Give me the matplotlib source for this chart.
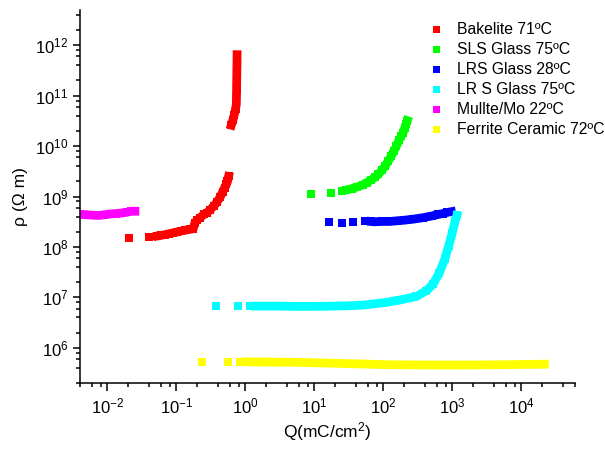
import matplotlib
matplotlib.use("Agg")
import matplotlib.pyplot as plt
from matplotlib.ticker import LogLocator, LogFormatterMathtext, NullFormatter

plt.rcParams['font.family'] = ['Liberation Sans', 'DejaVu Sans']
plt.rcParams['mathtext.fontset'] = 'custom'
plt.rcParams['mathtext.rm'] = 'Liberation Sans'
plt.rcParams['mathtext.it'] = 'Liberation Sans:italic'
plt.rcParams['mathtext.default'] = 'regular'

labels = ['Bakelite 71ºC', 'SLS Glass 75ºC', 'LRS Glass 28ºC',
          'LR S Glass 75ºC', 'Mullte/Mo 22ºC', 'Ferrite Ceramic 72ºC']
colors = ['#ff0000', '#00ff00', '#0000ff', '#00ffff', '#ff00ff', '#ffff00']

x_ticks = [1e-2, 1e-1, 1e0, 1e1, 1e2, 1e3, 1e4]
y_ticks = [1e6, 1e7, 1e8, 1e9, 1e10, 1e11, 1e12]

# Bakelite 71ºC
q_bak = [0.0205, 0.040, 0.053, 0.060, 0.068, 0.078, 0.090, 0.103, 0.118, 0.135,
         0.155, 0.175, 0.185, 0.20, 0.22, 0.25, 0.28, 0.31, 0.35, 0.39, 0.43,
         0.47, 0.50, 0.53, 0.55, 0.57,
         0.625, 0.66, 0.69, 0.72, 0.738, 0.745, 0.750, 0.755, 0.757]
r_bak = [1.49e8, 1.6e8, 1.65e8, 1.7e8, 1.75e8, 1.82e8, 1.9e8, 1.98e8, 2.07e8, 2.15e8,
         2.22e8, 2.3e8, 3.0e8, 3.4e8, 3.8e8, 4.4e8, 4.8e8, 5.5e8, 6.5e8, 7.9e8, 9.7e8,
         1.25e9, 1.5e9, 1.75e9, 2.0e9, 2.5e9,
         2.6e10, 3.3e10, 4.2e10, 5.5e10, 6.7e10, 1.3e11, 2.6e11, 4.5e11, 6.5e11]
seg_bak = [(2, 26), (26, 35)]

# SLS Glass 75ºC
q_sls = [8.9, 17.3, 24.9, 29, 34.7, 42, 50, 57, 67, 76, 84, 95, 106, 117, 130,
         142, 155, 168, 180, 193, 205, 215, 222]
r_sls = [1.14e9, 1.19e9, 1.28e9, 1.35e9, 1.43e9, 1.55e9, 1.7e9, 1.88e9, 2.15e9,
         2.4e9, 2.75e9, 3.3e9, 4.0e9, 5.0e9, 6.3e9, 8.0e9, 1.0e10, 1.3e10, 1.55e10,
         1.84e10, 2.3e10, 2.8e10, 3.2e10]
seg_sls = [(3, 23)]

# LRS Glass 28ºC
q_lrs = [16.5, 24.9, 36.6, 54, 66, 75, 95, 124, 160, 205, 270, 376, 500, 620,
         731, 850, 968]
r_lrs = [3.13e8, 2.95e8, 3.13e8, 3.23e8, 3.2e8, 3.15e8, 3.2e8, 3.2e8, 3.3e8,
         3.4e8, 3.55e8, 3.8e8, 4.1e8, 4.4e8, 4.6e8, 4.85e8, 5.0e8]
seg_lrs = [(4, 17)]

# LR S Glass 75ºC
q_lrsg = [0.38, 0.77, 1.15, 1.4, 3, 6, 15, 30, 50, 100, 170, 300, 420, 525, 650,
          775, 885, 1000, 1100, 1160]
r_lrsg = [6.8e6, 6.8e6, 6.8e6, 6.7e6, 6.7e6, 6.6e6, 6.65e6, 6.8e6, 7.0e6, 7.8e6,
          8.8e6, 1.04e7, 1.35e7, 1.82e7, 3.1e7, 5.7e7, 1.05e8, 1.93e8, 3.3e8, 4.2e8]
seg_lrsg = [(3, 20)]

# Mullte/Mo 22ºC
q_mul = [0.0040, 0.0050, 0.0062, 0.0075, 0.0090, 0.011, 0.0135, 0.016, 0.019,
         0.022, 0.025]
r_mul = [4.4e8, 4.35e8, 4.25e8, 4.2e8, 4.35e8, 4.5e8, 4.6e8, 4.7e8, 4.85e8,
         5.1e8, 5.1e8]
seg_mul = [(0, 11)]

# Ferrite Ceramic 72ºC
q_fer = [0.236, 0.553, 0.843, 1.05, 5, 13, 40, 124, 500, 1600, 5000, 21600]
r_fer = [5.28e5, 5.28e5, 5.28e5, 5.25e5, 5.15e5, 5.0e5, 4.8e5, 4.6e5, 4.55e5,
         4.55e5, 4.6e5, 4.72e5]
seg_fer = [(3, 12)]

series = [(q_bak, r_bak, seg_bak), (q_sls, r_sls, seg_sls), (q_lrs, r_lrs, seg_lrs),
          (q_lrsg, r_lrsg, seg_lrsg), (q_mul, r_mul, seg_mul), (q_fer, r_fer, seg_fer)]

fig = plt.figure(figsize=(6.05, 4.5), dpi=100)
ax = fig.add_axes([80/605, 1-383/450, (575-80)/605, (383-10)/450])

ms = 6.3
for (q, r, segs), lab, c in zip(series, labels, colors):
    for a, b in segs:
        ax.plot(q[a:b], r[a:b], '-', color=c, lw=ms, solid_capstyle='projecting',
                solid_joinstyle='miter')
    ax.plot(q, r, 's', color=c, ms=ms, mew=0, label=lab, linestyle='none')

ax.set_xscale('log')
ax.set_yscale('log')
ax.set_xlim(4e-3, 6e4)
ax.set_ylim(2e5, 5e12)

ax.set_xticks(x_ticks)
ax.set_yticks(y_ticks)
for axis in (ax.xaxis, ax.yaxis):
    axis.set_minor_locator(LogLocator(base=10, subs=(2, 4, 6, 8), numticks=30))
    axis.set_major_formatter(LogFormatterMathtext())
    axis.set_minor_formatter(NullFormatter())

ax.spines['top'].set_visible(False)
ax.spines['right'].set_visible(False)
ax.spines['left'].set_linewidth(1.1)
ax.spines['bottom'].set_linewidth(1.1)
ax.tick_params(which='major', direction='out', length=5.4, width=1.1, labelsize=12,
               colors='black')
ax.tick_params(axis='x', which='major', pad=4)
ax.tick_params(axis='y', which='major', pad=3)
ax.tick_params(which='minor', direction='out', length=2.9, width=1.1)

ax.set_xlabel('Q(mC/cm$^2$)', fontsize=12.5, labelpad=3)
ax.set_ylabel('ρ (Ω m)', fontsize=12.5, labelpad=5)

leg = ax.legend(loc='upper left', bbox_to_anchor=(430/605, 1-22/450),
                bbox_transform=fig.transFigure, frameon=False, fontsize=11.3,
                handlelength=0.8, handletextpad=0.9, labelspacing=0.32,
                markerscale=0.8, borderpad=0, borderaxespad=0)

fig.savefig('out.png', dpi=100)
